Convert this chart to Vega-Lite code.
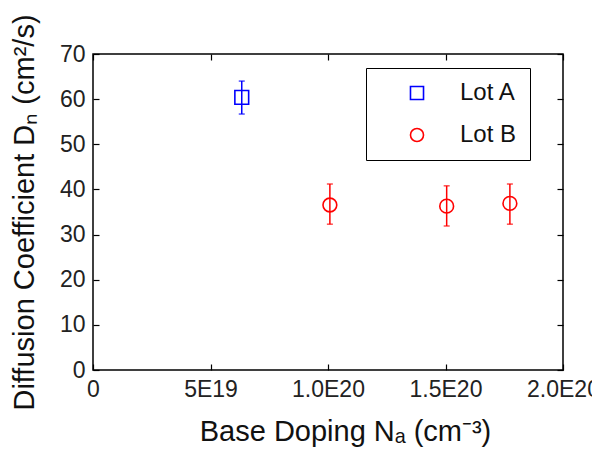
{
  "$schema": "https://vega.github.io/schema/vega-lite/v6.json",
  "width": 470,
  "height": 316,
  "autosize": {"type": "none"},
  "padding": {"left": 93, "top": 54, "right": 29, "bottom": 80},
  "background": "white",
  "config": {
    "view": {"stroke": "black", "strokeWidth": 1.5},
    "font": "Liberation Sans",
    "axis": {
      "domain": false,
      "grid": false,
      "tickColor": "black",
      "tickSize": -6,
      "tickWidth": 1.2,
      "labelFont": "Liberation Sans",
      "labelFontSize": 23,
      "labelColor": "#222222",
      "titleFont": "Liberation Sans",
      "titleFontSize": 29,
      "titleFontWeight": "normal",
      "titleColor": "#111111"
    }
  },
  "data": {
    "values": [
      {"lot": "Lot A", "doping": 6.33e19, "D": 60.4, "lo": 56.7, "hi": 64.0},
      {"lot": "Lot B", "doping": 1.008e20, "D": 36.55, "lo": 32.3, "hi": 41.2},
      {"lot": "Lot B", "doping": 1.505e20, "D": 36.3, "lo": 31.9, "hi": 40.8},
      {"lot": "Lot B", "doping": 1.774e20, "D": 36.9, "lo": 32.3, "hi": 41.2}
    ]
  },
  "resolve": {"axis": {"x": "independent", "y": "independent"}},
  "layer": [
    {
      "mark": {"type": "rule", "strokeWidth": 1.5},
      "encoding": {
        "x": {
          "field": "doping", "type": "quantitative",
          "scale": {"domain": [0, 2e20], "nice": false},
          "axis": {
            "values": [0, 5e19, 1e20, 1.5e20, 2e20],
            "labelExpr": "datum.value == 0 ? '0' : datum.value == 5e19 ? '5E19' : datum.value == 1e20 ? '1.0E20' : datum.value == 1.5e20 ? '1.5E20' : '2.0E20'",
            "labelPadding": 14,
            "labelFlush": false,
            "title": "Base Doping Nₐ (cm⁻³)",
            "titlePadding": 16,
            "titleX": 252
          }
        },
        "y": {
          "field": "lo", "type": "quantitative",
          "scale": {"domain": [0, 70], "nice": false},
          "axis": {
            "values": [0, 10, 20, 30, 40, 50, 60, 70],
            "labelPadding": 14,
            "title": "Diffusion Coefficient Dₙ (cm²/s)",
            "titlePadding": 20
          }
        },
        "y2": {"field": "hi"},
        "color": {"condition": {"test": "datum.lot === 'Lot A'", "value": "#0000FF"}, "value": "#FF0000"}
      }
    },
    {
      "mark": {"type": "tick", "orient": "horizontal", "size": 6, "thickness": 1.5},
      "encoding": {
        "x": {"field": "doping", "type": "quantitative", "axis": null},
        "y": {"field": "lo", "type": "quantitative", "axis": null},
        "color": {"condition": {"test": "datum.lot === 'Lot A'", "value": "#0000FF"}, "value": "#FF0000"}
      }
    },
    {
      "mark": {"type": "tick", "orient": "horizontal", "size": 6, "thickness": 1.5},
      "encoding": {
        "x": {"field": "doping", "type": "quantitative", "axis": null},
        "y": {"field": "hi", "type": "quantitative", "axis": null},
        "color": {"condition": {"test": "datum.lot === 'Lot A'", "value": "#0000FF"}, "value": "#FF0000"}
      }
    },
    {
      "mark": {"type": "point", "filled": false, "strokeWidth": 1.6, "size": 190, "opacity": 1},
      "encoding": {
        "x": {
          "field": "doping", "type": "quantitative",
          "scale": {"domain": [0, 2e20], "nice": false},
          "axis": {"orient": "top", "values": [0, 5e19, 1e20, 1.5e20, 2e20], "labels": false, "title": null}
        },
        "y": {
          "field": "D", "type": "quantitative",
          "scale": {"domain": [0, 70], "nice": false},
          "axis": {"orient": "right", "values": [0, 10, 20, 30, 40, 50, 60, 70], "labels": false, "title": null}
        },
        "color": {
          "field": "lot", "type": "nominal",
          "scale": {"domain": ["Lot A", "Lot B"], "range": ["#0000FF", "#FF0000"]},
          "legend": {
            "title": null,
            "orient": "none",
            "legendX": 273,
            "legendY": 14,
            "strokeColor": "black",
            "fillColor": "white",
            "padding": 13,
            "symbolOffset": 26,
            "labelOffset": 31,
            "rowPadding": 18,
            "labelFontSize": 24,
            "labelColor": "#111111",
            "labelFont": "Liberation Sans",
            "symbolSize": 170,
            "symbolStrokeWidth": 1.6,
            "symbolFillColor": "transparent"
          }
        },
        "shape": {
          "field": "lot", "type": "nominal",
          "scale": {"domain": ["Lot A", "Lot B"], "range": ["square", "circle"]}
        }
      }
    }
  ]
}
